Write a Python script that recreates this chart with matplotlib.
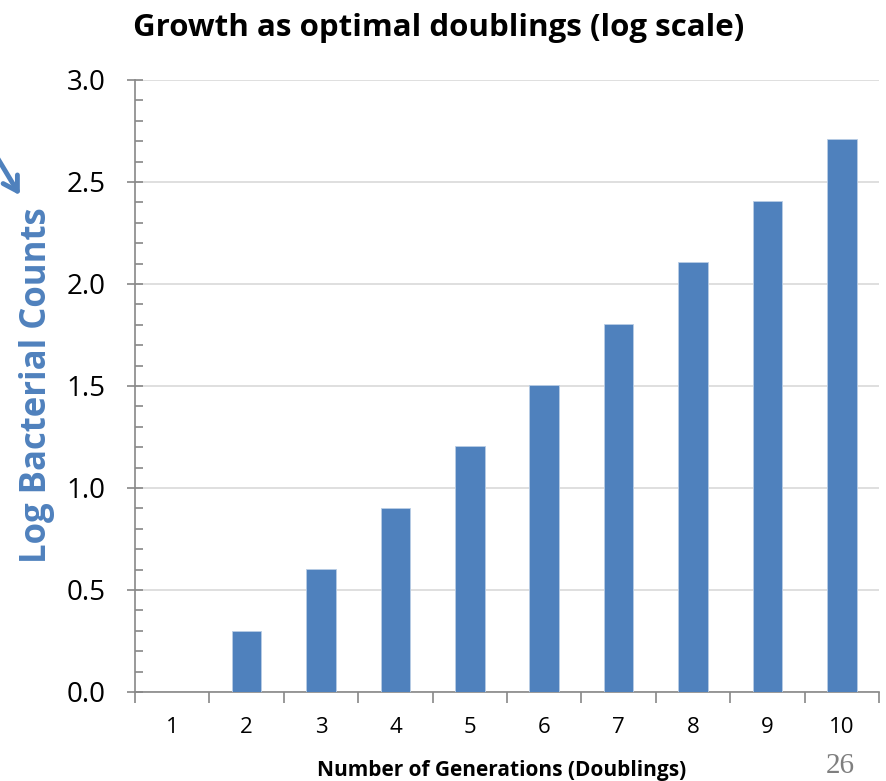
import numpy as np
import matplotlib.pyplot as plt
from matplotlib.patches import FancyArrowPatch
from matplotlib.ticker import MultipleLocator, FixedLocator

# data
generations = ['1', '2', '3', '4', '5', '6', '7', '8', '9', '10']
log_counts = [0.0, 0.301, 0.602, 0.903, 1.204, 1.505, 1.806, 2.107, 2.408, 2.709]

plt.rcParams['font.family'] = ['Open Sans', 'DejaVu Sans']

fig = plt.figure(figsize=(8.87, 7.81), dpi=100)
ax = fig.add_axes([0.1522, 0.114, 0.991 - 0.1522, 0.8976 - 0.114])

x = np.arange(len(generations))
ax.bar(x, log_counts, width=0.4, color='#4F81BD', edgecolor='#B9CDE5', linewidth=0.6, zorder=3)

ax.set_xlim(-0.5, len(generations) - 0.5)
ax.set_ylim(0, 3.0)
ax.yaxis.set_major_locator(MultipleLocator(0.5))
ax.yaxis.set_minor_locator(MultipleLocator(0.1))
ax.yaxis.set_major_formatter(plt.FuncFormatter(lambda v, p: f'{v:.1f}'))

ax.set_xticks(x)
ax.set_xticklabels(generations)
ax.xaxis.set_minor_locator(FixedLocator(np.arange(-0.5, len(generations), 1.0)))
ax.tick_params(axis='x', which='major', length=0, labelsize=16, pad=18)
ax.tick_params(axis='x', which='minor', length=8, width=1.2, color='#888888', direction='out')
ax.tick_params(axis='y', which='major', length=12, width=1.2, color='#888888', direction='inout',
               labelsize=20, pad=15)
ax.tick_params(axis='y', which='minor', length=6, width=1.2, color='#888888', direction='in')

ax.grid(axis='y', which='major', color='#D9D9D9', linewidth=1.2, zorder=0)
for s in ['top', 'right']:
    ax.spines[s].set_visible(False)
for s in ['left', 'bottom']:
    ax.spines[s].set_color('#888888')
    ax.spines[s].set_linewidth(1.2)

fig.text(0.495, 0.964, 'Growth as optimal doublings (log scale)', ha='center', va='center',
         fontsize=22.5, fontweight='bold')
fig.text(0.042, 0.507, 'Log Bacterial Counts', rotation=90, ha='center', va='center',
         fontsize=25, fontweight='bold', color='#4F81BD')
fig.text(0.565, 0.014, 'Number of Generations (Doublings)', ha='center', va='center',
         fontsize=15, fontweight='bold')
fig.text(0.947, 0.003, '26', ha='center', va='bottom', fontsize=21,
         color='#7F7F7F', family='Liberation Serif')

# partial arrow at the left edge
fig.patches.append(FancyArrowPatch(
    (-0.012, 0.815), (0.024, 0.747), transform=fig.transFigure,
    arrowstyle='->,head_length=10,head_width=6', color='#4F81BD', linewidth=3.5))

fig.savefig('out.png', dpi=100)
